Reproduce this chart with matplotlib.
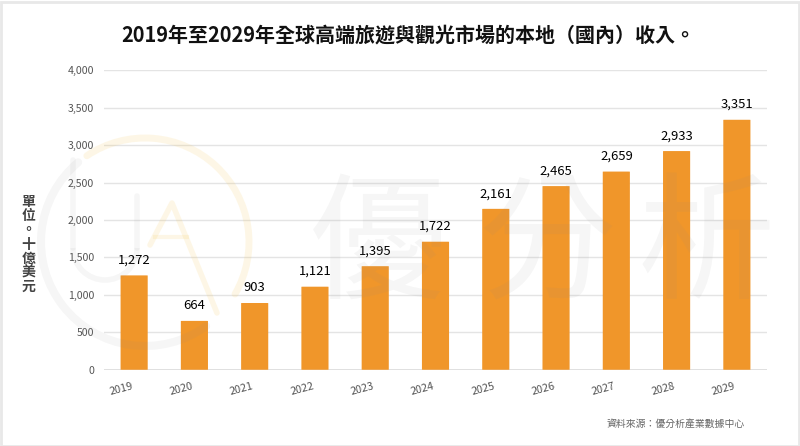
import matplotlib
matplotlib.use("Agg")
import matplotlib.pyplot as plt
from matplotlib.patches import Arc, FancyBboxPatch, Rectangle
from matplotlib.lines import Line2D

years = ["2019","2020","2021","2022","2023","2024","2025","2026","2027","2028","2029"]
revenue = [1272,664,903,1121,1395,1722,2161,2465,2659,2933,3351]
yticks = [0,500,1000,1500,2000,2500,3000,3500,4000]
title = "2019年至2029年全球高端旅遊與觀光市場的本地（國內）收入。"
ylabel_chars = "單位。十億美元"
source = "資料來源：優分析產業數據中心"
watermark = "優分析"

plt.rcParams['font.family'] = ['Noto Sans CJK TC', 'DejaVu Sans']
W, H = 800, 446
fig = plt.figure(figsize=(W/100, H/100), dpi=100, facecolor='white')
ax = fig.add_axes([104/W, 1-369.7/H, 663/W, 299.4/H])
ax.set_xlim(-0.5, 10.5)
ax.set_ylim(0, 4000)
ax.patch.set_alpha(0)
for s in ax.spines.values():
    s.set_visible(False)
ax.set_axisbelow(True)
ax.yaxis.grid(True, color='#e4e4e4', lw=1)
ax.xaxis.grid(False)
ax.axhline(0, color='#dcdcdc', lw=1.2, zorder=1)

for i, v in enumerate(revenue):
    ax.add_patch(FancyBboxPatch((i-0.205, 0), 0.41, v-13,
        boxstyle="round,pad=0.02,rounding_size=0.03", mutation_aspect=50,
        fc='#f0962a', ec='none', zorder=2))
    ax.annotate(f"{v:,}", (i, v), xytext=(0, 5.6), textcoords='offset points',
                ha='center', va='bottom', fontsize=9.4, color='#000000', zorder=5)

ax.set_xticks(range(len(years)))
ax.set_xticklabels(years, rotation=15, ha='right', fontsize=7.8, color='#555555')
ax.set_yticks(yticks)
ax.set_yticklabels([f"{t:,}" for t in yticks], fontsize=7.6, color='#555555')
ax.tick_params(axis='both', length=0)
ax.tick_params(axis='y', pad=7)
ax.tick_params(axis='x', pad=8)

fig.text(408.5/W, 1-35/H, title, ha='center', va='center', fontsize=14.4,
         fontweight='bold', color='#111111')
fig.text(28.5/W, 1-244.5/H, "\n".join(ylabel_chars), ha='center', va='center',
         fontsize=10, fontweight='bold', color='#444444', linespacing=1.02)
fig.text(745/W, 1-424.5/H, source, ha='right', va='center', fontsize=7.1, color='#666666')

# overlay in pixel coordinates: decorative watermark and frame
ov = fig.add_axes([0, 0, 1, 1], zorder=10)
ov.set_xlim(0, W); ov.set_ylim(0, H); ov.axis('off'); ov.patch.set_alpha(0)
Y = lambda p: H - p
GR = dict(color='#888888', alpha=0.075)
OR = dict(color='#f5c040', alpha=0.13)
for ch, cx in zip(watermark, [378, 547, 706]):
    ov.text(cx, Y(249), ch, ha='center', va='center', fontsize=99, fontweight='medium', **GR)
D = 208
ov.add_patch(Arc((145, Y(242)), D, D, theta1=130, theta2=306, lw=5.8, capstyle='round', **GR))
ov.add_patch(Arc((145, Y(242)), D, D, theta1=-30, theta2=124, lw=5, capstyle='round', **OR))
# U of the logo
ov.add_line(Line2D([73, 73], [Y(160), Y(248)], lw=4, solid_capstyle='round', **GR))
ov.add_line(Line2D([137, 137], [Y(196), Y(248)], lw=4, solid_capstyle='round', **GR))
ov.add_patch(Arc((105, Y(248)), 64, 64, theta1=180, theta2=360, lw=4, **GR))
# A of the logo
ov.add_line(Line2D([150, 172, 217], [Y(245), Y(203), Y(313)], lw=4,
                   solid_capstyle='round', solid_joinstyle='round', **OR))
ov.add_line(Line2D([155, 187], [Y(237), Y(237)], lw=3, **OR))
ov.add_patch(Rectangle((1, 0.5), W-2, H-2, fc='none', ec='#e8e8e8', lw=2))

fig.savefig("out.png", dpi=100, facecolor='white')
